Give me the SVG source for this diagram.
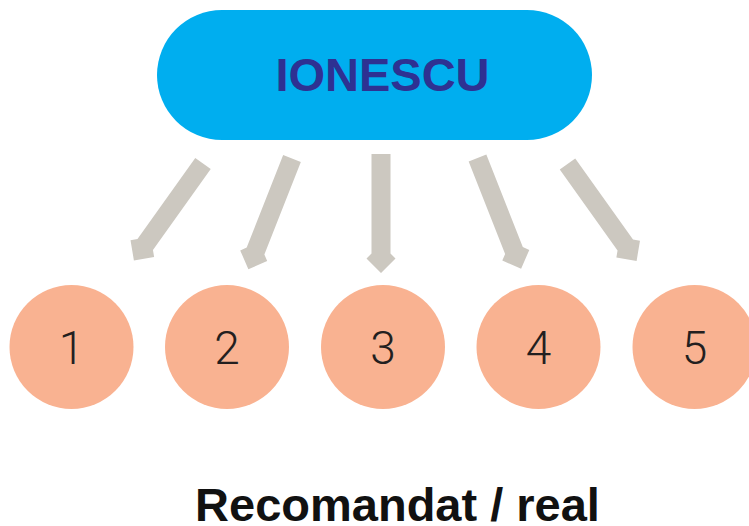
<svg xmlns="http://www.w3.org/2000/svg" xmlns:xlink="http://www.w3.org/1999/xlink" width="749" height="526" viewBox="0 0 749 526">
<style>
.pill{fill:#00AEEF}
.title{font-family:"Liberation Sans",Arial,sans-serif;font-weight:bold;font-size:47px;fill:#2E3192;text-anchor:middle}
.circ{fill:#F9B291}
.num{font-family:Roboto,"Liberation Sans",sans-serif;font-weight:300;font-size:46px;fill:#231F20;text-anchor:middle}
.arrow{fill:#CCC8C0}
.caption{font-family:"Liberation Sans",Arial,sans-serif;font-weight:bold;font-size:47px;fill:#111111;text-anchor:middle}
</style>
<defs>
<path id="arr" d="M-9.5,0 L9.5,0 L9.5,99.5 L14.5,104.5 L0,119 L-14.5,104.5 L-9.5,99.5 Z"/>
</defs>
<rect width="749" height="526" fill="#FFFFFF"/>
<g id="ionescu">
<rect class="pill" x="157" y="10" width="435" height="130" rx="65" ry="65"/>
<text class="title" x="382.5" y="90.5">IONESCU</text>
</g>
<g id="connectors" class="arrow">
<use xlink:href="#arr" transform="translate(203,163.5) rotate(35.5)"/>
<use xlink:href="#arr" transform="translate(292,158.5) rotate(21.5)"/>
<use xlink:href="#arr" transform="translate(381,154)"/>
<use xlink:href="#arr" transform="translate(477.5,158) rotate(-21.5)"/>
<use xlink:href="#arr" transform="translate(567.5,164) rotate(-35.5)"/>
</g>
<g id="n1"><circle class="circ" cx="71.5" cy="347" r="62"/><text class="num" x="71.5" y="364">1</text></g>
<g id="n2"><circle class="circ" cx="227" cy="347" r="62"/><text class="num" x="227" y="364">2</text></g>
<g id="n3"><circle class="circ" cx="383" cy="347" r="62"/><text class="num" x="383" y="364">3</text></g>
<g id="n4"><circle class="circ" cx="538.5" cy="347" r="62"/><text class="num" x="538.5" y="364">4</text></g>
<g id="n5"><circle class="circ" cx="694.5" cy="347" r="62"/><text class="num" x="694.5" y="364">5</text></g>
<g id="caption"><text class="caption" x="397.5" y="521">Recomandat / real</text></g>
</svg>
